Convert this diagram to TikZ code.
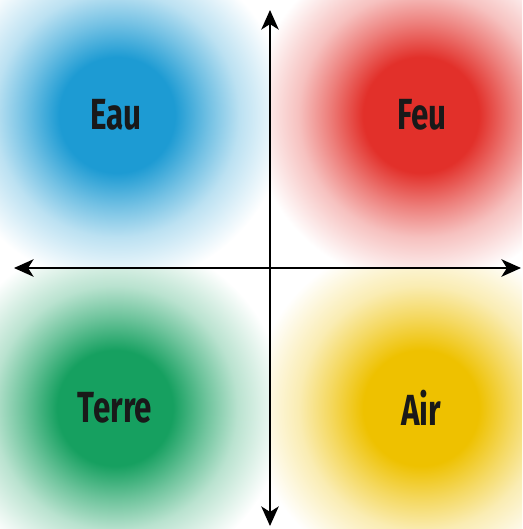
\documentclass[tikz,border=0pt]{standalone}
\usepackage{fontspec}
\setmainfont{Fira Sans}[FakeStretch=0.72]
\usetikzlibrary{arrows.meta}
\definecolor{eaublue}{HTML}{1D9BD3}
\definecolor{feured}{HTML}{E2302A}
\definecolor{terregreen}{HTML}{16A060}
\definecolor{airyellow}{HTML}{EEC100}
% soft round blob: full colour in the core, fading out to white
\newcommand{\blobshade}[2]{\pgfdeclareradialshading{#1}{\pgfpoint{0bp}{0bp}}{color(0bp)=(#2);color(8.5bp)=(#2);color(13.5bp)=(#2!62!white);color(18bp)=(#2!30!white);color(25bp)=(white);color(50bp)=(white)}}
\blobshade{blobeau}{eaublue}\blobshade{blobfeu}{feured}
\blobshade{blobterre}{terregreen}\blobshade{blobair}{airyellow}
\tikzset{element/.style={font=\fontsize{62}{64}\selectfont\bfseries,text=black!90},
  axis/.style={line width=1.8pt,{Stealth[length=28pt,width=25pt,inset=8pt]}-{Stealth[length=28pt,width=25pt,inset=8pt]}}}
\begin{document}
\begin{tikzpicture}[x=0.05cm,y=-0.05cm]
\useasboundingbox (0,0) rectangle (522,529);
\foreach \b/\x/\y/\qa/\qb/\qc/\qd in {blobeau/117/115/0/0/270/268,blobfeu/421/115/270/0/522/268,blobterre/115/408/0/268/270/529,blobair/421/408/270/268/522/529}{
  \begin{scope}\clip (\qa,\qb) rectangle (\qc,\qd);\shade[shading=\b] (\x,\y) circle (170);\end{scope}}
\node[element] (eau) at (116,115) {Eau};
\node[element] (feu) at (422,115) {Feu};
\node[element] (terre) at (115,408) {Terre};
\node[element] (air) at (421,408) {Air};
\coordinate (west) at (14,268);\coordinate (east) at (521,268);
\coordinate (north) at (270,10);\coordinate (south) at (270,526);
\draw[axis] (west) -- (east);\draw[axis] (south) -- (north);
\end{tikzpicture}
\end{document}
